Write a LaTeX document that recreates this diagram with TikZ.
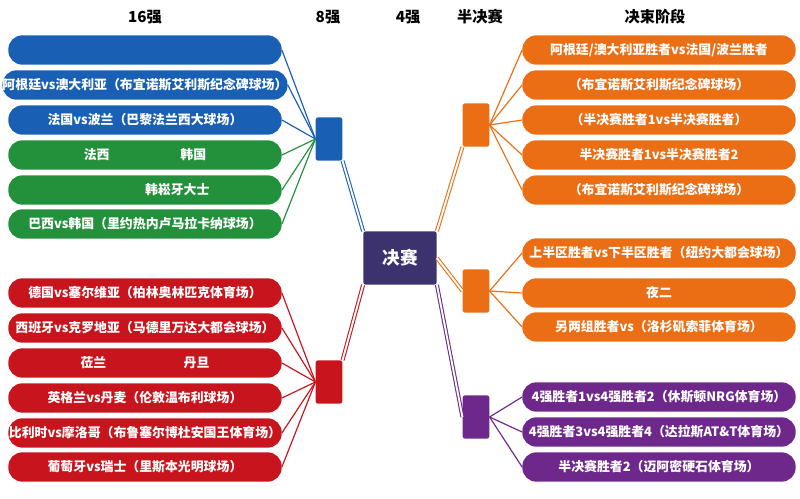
\documentclass[tikz,border=0pt]{standalone}
\usepackage{fontspec}
\setmainfont{Noto Sans CJK SC}
\usetikzlibrary{positioning}

\definecolor{cblue}{RGB}{25,95,180}
\definecolor{cgreen}{RGB}{35,145,60}
\definecolor{cred}{RGB}{200,20,28}
\definecolor{corange}{RGB}{235,110,20}
\definecolor{cpurple}{RGB}{110,40,140}
\definecolor{cnavy}{RGB}{60,50,110}

\tikzset{
  bar/.style={fill=#1, rounded corners=0.42cm, minimum width=8.2cm, minimum height=0.88cm,
    text=white, font=\bfseries\fontsize{11}{12}\selectfont, inner sep=0pt},
  hub/.style={fill=#1, rounded corners=2pt, minimum width=0.8cm, minimum height=1.3cm, inner sep=0pt},
  link/.style={draw=#1, line width=1pt},
  dlink/.style={draw=#1, double=white, double distance=1.6pt, line width=0.9pt},
  head/.style={font=\bfseries\fontsize{13}{14}\selectfont}
}

\begin{document}
\begin{tikzpicture}[x=0.03cm,y=-0.03cm]
    \useasboundingbox (0,0) rectangle (800,499);

    % Column headers
    \node[head] (h16) at (145,17) {16强};
    \node[head] (h8) at (328,17) {8强};
    \node[head] (h4) at (408,17) {4强};
    \node[head] (hsemi) at (480,17) {半决赛};
    \node[head] (hfin) at (655,17) {决束阶段};

    % Hubs
    \node[hub=cblue] (hubA) at (329,139) {};
    \node[hub=cred] (hubB) at (329,382) {};
    \node[hub=corange] (hubC) at (476,125) {};
    \node[hub=corange] (hubD) at (476,291) {};
    \node[hub=cpurple] (hubE) at (476,417) {};

    % Final
    \node[fill=cnavy, rounded corners=2pt, minimum width=2.2cm, minimum height=1.6cm,
      text=white, font=\bfseries\fontsize{15}{16}\selectfont] (final) at (400,258) {决赛};

    % Left side, top group
    \foreach \name/\col/\y/\txt in {
      a1/cblue/50/{},
      a2/cblue/85/{阿根廷vs澳大利亚（布宜诺斯艾利斯纪念碑球场）},
      a3/cblue/120/{法国vs波兰（巴黎法兰西大球场）},
      a4/cgreen/155/{法西\hspace{5.5em}韩国},
      a5/cgreen/190/{\hspace{5em}韩崧牙大士},
      a6/cgreen/224/{巴西vs韩国（里约热内卢马拉卡纳球场）}}{
      \node[bar=\col] (\name) at (145,\y) {\txt};
      \draw[link=\col] (\name.east) -- (hubA.west);
    }

    % Left side, bottom group
    \foreach \name/\y/\txt in {
      b1/293/{德国vs塞尔维亚（柏林奥林匹克体育场）},
      b2/328/{西班牙vs克罗地亚（马德里万达大都会球场）},
      b3/363/{莅兰\hspace{6em}丹旦},
      b4/398/{英格兰vs丹麦（伦敦温布利球场）},
      b5/433/{比利时vs摩洛哥（布鲁塞尔博杜安国王体育场）},
      b6/467/{葡萄牙vs瑞士（里斯本光明球场）}}{
      \node[bar=cred] (\name) at (145,\y) {\txt};
      \draw[link=cred] (\name.east) -- (hubB.west);
    }

    % Right side, top group
    \foreach \name/\y/\txt in {
      c1/50/{阿根廷/澳大利亚胜者vs法国/波兰胜者},
      c2/85/{（布宜诺斯艾利斯纪念碑球场）},
      c3/120/{（半决赛胜者1vs半决赛胜者）},
      c4/155/{半决赛胜者1vs半决赛胜者2},
      c5/190/{（布宜诺斯艾利斯纪念碑球场）}}{
      \node[bar=corange] (\name) at (659,\y) {\txt};
      \draw[link=corange] (hubC.east) -- (\name.west);
    }

    % Right side, middle group
    \foreach \name/\y/\txt in {
      d1/253/{上半区胜者vs下半区胜者（纽约大都会球场）},
      d2/293/{夜二\hspace{6em}},
      d3/327/{另两组胜者vs（洛杉矶索菲体育场）}}{
      \node[bar=corange] (\name) at (659,\y) {\txt};
      \draw[link=corange] (hubD.east) -- (\name.west);
    }

    % Right side, bottom group
    \foreach \name/\y/\txt in {
      e1/397/{4强胜者1vs4强胜者2（休斯顿NRG体育场）},
      e2/432/{4强胜者3vs4强胜者4（达拉斯AT\&T体育场）},
      e3/467/{半决赛胜者2（迈阿密硬石体育场）}}{
      \node[bar=cpurple] (\name) at (659,\y) {\txt};
      \draw[link=cpurple] (hubE.east) -- (\name.west);
    }

    % Hubs to final
    \draw[dlink=cblue] (hubA.south east) -- (final.north west);
    \draw[dlink=cred] (hubB.north east) -- (final.south west);
    \draw[dlink=corange] (hubC.south west) -- (final.north east);
    \draw[dlink=corange] (final.east) -- (hubD.west);
    \draw[dlink=cpurple] (final.south east) -- (hubE.west);
\end{tikzpicture}
\end{document}
